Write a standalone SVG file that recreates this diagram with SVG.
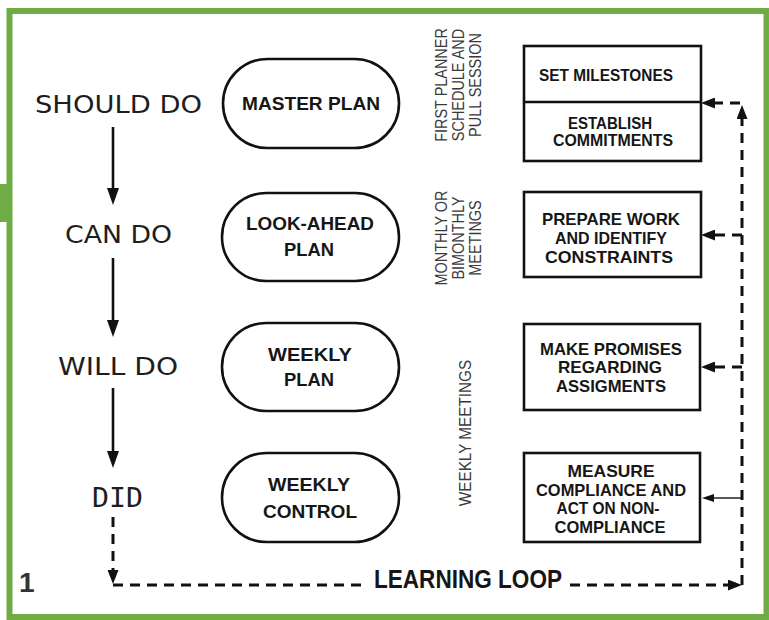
<svg xmlns="http://www.w3.org/2000/svg" width="769" height="620" viewBox="0 0 769 620">
  <style>
    .frame { fill: none; stroke: #6fac46; stroke-width: 6; }
    .tab { fill: #6fac46; }
    .stage { font-family: "DejaVu Sans", "Liberation Sans", sans-serif; font-size: 24.5px; fill: #1e1e1e; }
    .stage-mono { font-family: "DejaVu Sans Mono", "Liberation Mono", monospace; font-size: 26px; fill: #1e1e1e; }
    .shape { fill: #ffffff; stroke: #111111; stroke-width: 2.6; }
    .plan { font-family: "Liberation Sans", Arial, sans-serif; font-weight: bold; font-size: 19px; fill: #161616; text-anchor: middle; }
    .task { font-family: "Liberation Sans", Arial, sans-serif; font-weight: bold; font-size: 16.5px; fill: #161616; text-anchor: middle; }
    .side { font-family: "Liberation Sans", Arial, sans-serif; font-size: 17px; fill: #3a3a3a; text-anchor: middle; }
    .loop-label { font-family: "Liberation Sans", Arial, sans-serif; font-weight: bold; font-size: 26px; fill: #161616; }
    .flow { fill: none; stroke: #111111; stroke-width: 2.6; }
    .dash { fill: none; stroke: #111111; stroke-width: 3; stroke-dasharray: 10 7; }
    .thin { fill: none; stroke: #111111; stroke-width: 1.4; }
    .mark { font-family: "Liberation Sans", Arial, sans-serif; font-weight: bold; fill: #333333; }
  </style>
  <defs>
    <marker id="head" viewBox="0 0 17 12" refX="7" refY="6" markerWidth="17" markerHeight="12" markerUnits="userSpaceOnUse" orient="auto">
      <path d="M0,0 L17,6 L0,12 Z" fill="#111111"/>
    </marker>
    <marker id="head-dash" viewBox="0 0 14 11" refX="4" refY="5.5" markerWidth="14" markerHeight="11" markerUnits="userSpaceOnUse" orient="auto">
      <path d="M0,0 L14,5.5 L0,11 Z" fill="#111111"/>
    </marker>
    <marker id="head-small" viewBox="0 0 12 8" refX="4" refY="4" markerWidth="12" markerHeight="8" markerUnits="userSpaceOnUse" orient="auto">
      <path d="M0,0 L12,4 L0,8 Z" fill="#111111"/>
    </marker>
  </defs>

  <rect width="769" height="620" fill="#ffffff"/>

  <!-- outer green frame -->
  <rect class="tab" x="0" y="184" width="12" height="38"/>
  <rect class="frame" x="9.5" y="11" width="757" height="606"/>
  <text class="mark" x="19" y="592" font-size="28">1</text>

  <!-- stage labels -->
  <g id="should-do"><text class="stage" x="35" y="113" textLength="167" lengthAdjust="spacingAndGlyphs">SHOULD DO</text></g>
  <g id="can-do"><text class="stage" x="65" y="243" textLength="107" lengthAdjust="spacingAndGlyphs">CAN DO</text></g>
  <g id="will-do"><text class="stage" x="58" y="375" textLength="120" lengthAdjust="spacingAndGlyphs">WILL DO</text></g>
  <g id="did"><text class="stage-mono" x="92" y="507" textLength="51" lengthAdjust="spacingAndGlyphs">DID</text></g>

  <!-- plan levels -->
  <g id="master-plan">
    <rect class="shape" x="223" y="59" width="176" height="89" rx="44.5"/>
    <text class="plan" x="311" y="110" textLength="138" lengthAdjust="spacingAndGlyphs">MASTER PLAN</text>
  </g>
  <g id="look-ahead-plan">
    <rect class="shape" x="222" y="193" width="177" height="88" rx="44"/>
    <text class="plan" x="310" y="230" textLength="128" lengthAdjust="spacingAndGlyphs">LOOK-AHEAD</text>
    <text class="plan" x="309" y="256" textLength="50" lengthAdjust="spacingAndGlyphs">PLAN</text>
  </g>
  <g id="weekly-plan">
    <rect class="shape" x="222" y="323" width="177" height="88" rx="44"/>
    <text class="plan" x="310" y="361" textLength="84" lengthAdjust="spacingAndGlyphs">WEEKLY</text>
    <text class="plan" x="309" y="386" textLength="50" lengthAdjust="spacingAndGlyphs">PLAN</text>
  </g>
  <g id="weekly-control">
    <rect class="shape" x="222" y="453" width="177" height="89" rx="44.5"/>
    <text class="plan" x="309" y="491" textLength="82" lengthAdjust="spacingAndGlyphs">WEEKLY</text>
    <text class="plan" x="310" y="518" textLength="94" lengthAdjust="spacingAndGlyphs">CONTROL</text>
  </g>

  <!-- meeting labels -->
  <g id="pull-session-label">
    <text class="side" transform="translate(447,85) rotate(-90) scale(0.85,1)">FIRST PLANNER</text>
    <text class="side" transform="translate(464,85) rotate(-90) scale(0.85,1)">SCHEDULE AND</text>
    <text class="side" transform="translate(481,85) rotate(-90) scale(0.85,1)">PULL SESSION</text>
  </g>
  <g id="monthly-label">
    <text class="side" transform="translate(447,238) rotate(-90) scale(0.85,1)">MONTHLY OR</text>
    <text class="side" transform="translate(464,238) rotate(-90) scale(0.85,1)">BIMONTHLY</text>
    <text class="side" transform="translate(481,238) rotate(-90) scale(0.85,1)">MEETINGS</text>
  </g>
  <g id="weekly-label">
    <text class="side" transform="translate(471,433) rotate(-90) scale(0.9,1)">WEEKLY MEETINGS</text>
  </g>

  <!-- activities -->
  <g id="milestones">
    <rect class="shape" x="524" y="46" width="177" height="115"/>
    <line class="flow" x1="524" y1="102" x2="701" y2="102"/>
    <text class="task" x="606" y="81" textLength="134" lengthAdjust="spacingAndGlyphs">SET MILESTONES</text>
    <text class="task" x="610" y="129" textLength="84" lengthAdjust="spacingAndGlyphs">ESTABLISH</text>
    <text class="task" x="613" y="146" textLength="120" lengthAdjust="spacingAndGlyphs">COMMITMENTS</text>
  </g>
  <g id="constraints">
    <rect class="shape" x="524" y="192" width="177" height="85"/>
    <text class="task" x="611" y="225" textLength="138" lengthAdjust="spacingAndGlyphs">PREPARE WORK</text>
    <text class="task" x="611" y="244" textLength="112" lengthAdjust="spacingAndGlyphs">AND IDENTIFY</text>
    <text class="task" x="609" y="263" textLength="128" lengthAdjust="spacingAndGlyphs">CONSTRAINTS</text>
  </g>
  <g id="promises">
    <rect class="shape" x="524" y="324" width="176" height="86"/>
    <text class="task" x="611" y="355" textLength="142" lengthAdjust="spacingAndGlyphs">MAKE PROMISES</text>
    <text class="task" x="610" y="373" textLength="104" lengthAdjust="spacingAndGlyphs">REGARDING</text>
    <text class="task" x="611" y="392" textLength="110" lengthAdjust="spacingAndGlyphs">ASSIGMENTS</text>
  </g>
  <g id="compliance">
    <rect class="shape" x="524" y="453" width="176" height="89"/>
    <text class="task" x="611" y="477" textLength="87" lengthAdjust="spacingAndGlyphs">MEASURE</text>
    <text class="task" x="611" y="496" textLength="150" lengthAdjust="spacingAndGlyphs">COMPLIANCE AND</text>
    <text class="task" x="608" y="514" textLength="103" lengthAdjust="spacingAndGlyphs">ACT ON NON-</text>
    <text class="task" x="610" y="533" textLength="111" lengthAdjust="spacingAndGlyphs">COMPLIANCE</text>
  </g>

  <!-- learning loop label -->
  <g id="learning-loop">
    <text class="loop-label" x="374" y="588" textLength="188" lengthAdjust="spacingAndGlyphs">LEARNING LOOP</text>
  </g>

  <!-- connectors -->
  <g id="connectors">
    <line class="flow" x1="113" y1="127" x2="113" y2="195" marker-end="url(#head)"/>
    <line class="flow" x1="113" y1="258" x2="113" y2="327" marker-end="url(#head)"/>
    <line class="flow" x1="113" y1="388" x2="113" y2="458" marker-end="url(#head)"/>
    <line class="dash" x1="113" y1="517" x2="113" y2="574" marker-end="url(#head-dash)"/>
    <path class="dash" d="M113,585 H366"/>
    <line class="dash" x1="570" y1="585" x2="732" y2="585" marker-end="url(#head-dash)"/>
    <line class="dash" x1="742" y1="585" x2="742" y2="115" marker-end="url(#head-dash)"/>
    <line class="dash" x1="740" y1="103" x2="711" y2="103" marker-end="url(#head-dash)"/>
    <line class="dash" x1="742" y1="235" x2="711" y2="235" marker-end="url(#head-dash)"/>
    <line class="dash" x1="742" y1="367" x2="711" y2="367" marker-end="url(#head-dash)"/>
    <line class="thin" x1="742" y1="498" x2="710" y2="498" marker-end="url(#head-small)"/>
  </g>
</svg>
